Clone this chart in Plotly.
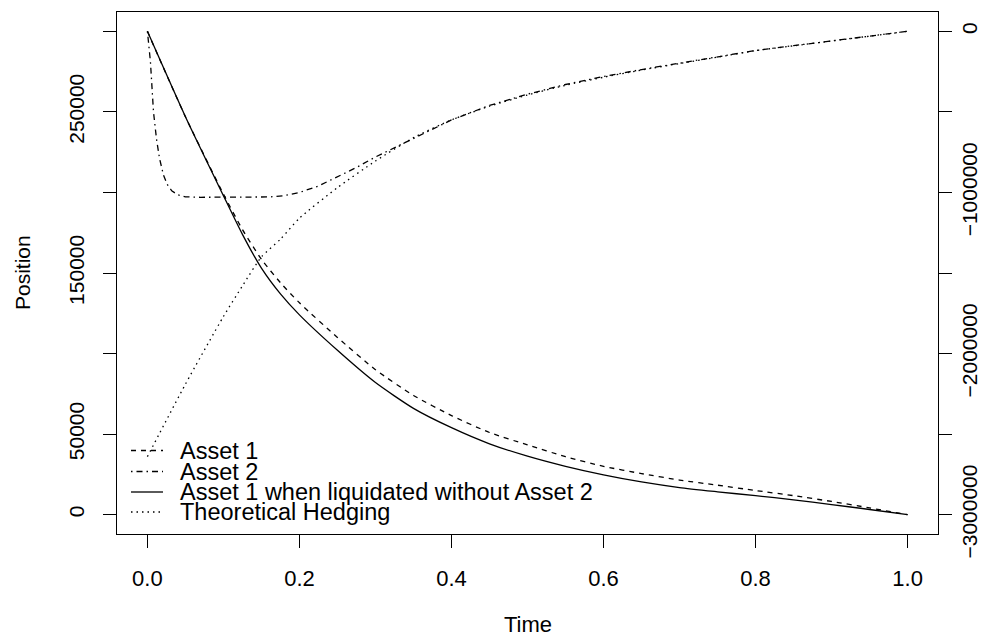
import plotly.graph_objects as go

# ---------------- data ----------------
time_grid = [0.00, 0.05, 0.10, 0.125, 0.15, 0.175, 0.20, 0.25, 0.30, 0.35, 0.40,
             0.45, 0.50, 0.55, 0.60, 0.65, 0.70, 0.75, 0.80, 0.85, 0.90, 0.95, 1.00]

asset1 = [300000, 247000, 199000, 177000, 158500, 144000, 131500, 110000, 90000,
          74000, 61500, 51000, 43300, 36000, 30000, 25500, 21500, 18300, 15000,
          11800, 8200, 4200, 0]

asset1_alone = [300000, 247000, 198000, 174000, 153000, 137000, 124000, 102000,
                82000, 66000, 54000, 44000, 36300, 30000, 24700, 20300, 16800,
                14200, 11800, 9200, 6300, 3200, 0]

hedging = [-2640000, -2190000, -1770000, -1580000, -1400000, -1290000, -1160000,
           -970000, -805000, -660000, -550000, -465000, -395000, -335000,
           -285000, -240000, -200000, -160000, -120000, -90000, -60000, -30000, 0]

time_asset2 = [0.000, 0.004, 0.008, 0.012, 0.016, 0.021, 0.026, 0.032, 0.040,
               0.050, 0.070, 0.100, 0.130, 0.160, 0.180, 0.200, 0.225, 0.250,
               0.275, 0.300, 0.350, 0.400, 0.450, 0.500, 0.550, 0.600, 0.650,
               0.700, 0.750, 0.800, 0.850, 0.900, 0.950, 1.000]
asset2 = [0, -190000, -500000, -670000, -790000, -890000, -950000, -990000,
          -1015000, -1027000, -1030000, -1030000, -1030000, -1028000, -1020000,
          -1000000, -960000, -905000, -845000, -780000, -665000, -550000,
          -460000, -390000, -330000, -280000, -237000, -197000, -158000,
          -119000, -89000, -60000, -30000, 0]

series_names = ["Asset 1", "Asset 2", "Asset 1 when liquidated without Asset 2",
                "Theoretical Hedging"]

x_ticks = [0.0, 0.2, 0.4, 0.6, 0.8, 1.0]
x_ticklabels = ["0.0", "0.2", "0.4", "0.6", "0.8", "1.0"]
left_ticks = [0, 50000, 100000, 150000, 200000, 250000, 300000]
left_ticklabels = ["0", "50000", "", "150000", "", "250000", ""]
right_ticks = [0, -500000, -1000000, -1500000, -2000000, -2500000, -3000000]
right_ticklabels = ["0", "", "\u22121000000", "", "\u22122000000", "", "\u22123000000"]

# ---------------- styling ----------------
FONT = "Liberation Sans, Arial, Helvetica, sans-serif"
LW = 1.3
dash_styles = ["5px,5px", "1.5px,4px,6px,4px", "solid", "1.5px,4px"]

fig = go.Figure()
fig.add_trace(go.Scatter(x=time_grid, y=asset1, mode="lines", name=series_names[0],
                         line=dict(color="black", width=LW, dash=dash_styles[0],
                                   shape="spline", smoothing=0.6),
                         yaxis="y"))
fig.add_trace(go.Scatter(x=time_asset2, y=asset2, mode="lines", name=series_names[1],
                         line=dict(color="black", width=LW, dash=dash_styles[1]),
                         yaxis="y2"))
fig.add_trace(go.Scatter(x=time_grid, y=asset1_alone, mode="lines", name=series_names[2],
                         line=dict(color="black", width=LW, dash=dash_styles[2],
                                   shape="spline", smoothing=0.6),
                         yaxis="y"))
fig.add_trace(go.Scatter(x=time_grid, y=hedging, mode="lines", name=series_names[3],
                         line=dict(color="black", width=LW, dash=dash_styles[3],
                                   shape="spline", smoothing=0.6),
                         yaxis="y2"))

# the page body has an 8px margin, so the figure is 8px smaller than the window
OFF = 8
W, H = 987 - OFF, 637 - OFF
L, R, T, B = 117 - OFF, 49, 12 - OFF, 103
pw, ph = W - L - R, H - T - B

def px_x(p):  # p in window pixels
    return (p - OFF - L) / pw

def px_y(p):
    return (H - B - (p - OFF)) / ph

# legend in R style (no box), rows tighter than plotly's own legend allows
legend_rows = [450.5, 471.5, 492, 512]
for name, dash, ry in zip(series_names, dash_styles, legend_rows):
    fig.add_shape(type="line", xref="paper", yref="paper",
                  x0=px_x(131), x1=px_x(163), y0=px_y(ry), y1=px_y(ry),
                  line=dict(color="black", width=LW, dash=dash))
    fig.add_annotation(text=name, xref="paper", yref="paper", x=px_x(178),
                       y=px_y(ry), xanchor="left", yanchor="middle",
                       showarrow=False, font=dict(family=FONT, size=23.5, color="black"))

# axis titles
fig.add_annotation(text="Time", xref="paper", yref="paper", x=0.5, y=px_y(624),
                   xanchor="center", yanchor="middle", showarrow=False,
                   font=dict(family=FONT, size=22, color="black"))
fig.add_annotation(text="Position", xref="paper", yref="paper", x=px_x(22),
                   y=0.5, xanchor="center", yanchor="middle", showarrow=False,
                   textangle=-90, font=dict(family=FONT, size=21, color="black"))

fig.update_layout(
    width=W, height=H,
    margin=dict(l=L, r=R, t=T, b=B, pad=0, autoexpand=False),
    paper_bgcolor="white", plot_bgcolor="white",
    showlegend=False,
    font=dict(family=FONT, color="black"),
    xaxis=dict(range=[-0.04, 1.04], tickvals=x_ticks, ticktext=x_ticklabels,
               ticks="outside", ticklen=13, tickwidth=1, tickcolor="black",
               showline=True, linecolor="black", linewidth=1, mirror=True,
               showgrid=False, zeroline=False, automargin=False,
               tickfont=dict(family=FONT, size=22), ticklabelstandoff=12),
    yaxis=dict(range=[-12000, 312000], tickvals=left_ticks, ticktext=left_ticklabels,
               ticks="outside", ticklen=13, tickwidth=1, tickcolor="black",
               showline=True, linecolor="black", linewidth=1, mirror=True,
               showgrid=False, zeroline=False, tickangle=-90, automargin=False,
               tickfont=dict(family=FONT, size=21), ticklabelstandoff=11),
    yaxis2=dict(range=[-3120000, 120000], tickvals=right_ticks, ticktext=right_ticklabels,
                overlaying="y", side="right", automargin=False,
                ticks="outside", ticklen=13, tickwidth=1, tickcolor="black",
                showline=False, showgrid=False, zeroline=False, tickangle=-90,
                tickfont=dict(family=FONT, size=21), ticklabelstandoff=0),
)

fig.write_html("out.html")
